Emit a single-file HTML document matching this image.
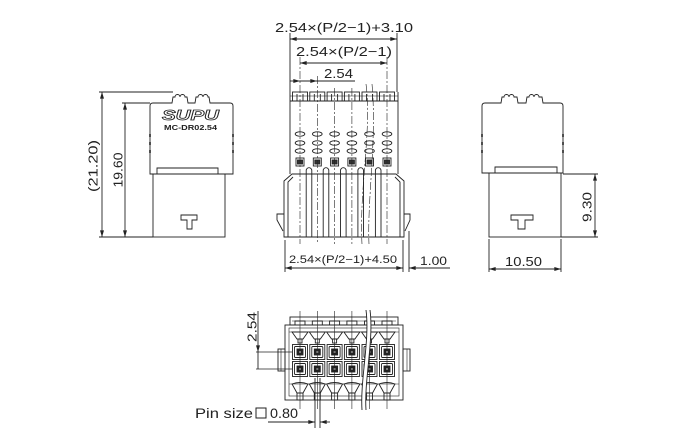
<!DOCTYPE html>
<html><head><meta charset="utf-8">
<style>
html,body{margin:0;padding:0;background:#fff;}
svg{display:block;}
text{font-family:"Liberation Sans",sans-serif;fill:#222;stroke:none;}
</style></head><body>
<svg width="680" height="440" viewBox="0 0 680 440" xmlns="http://www.w3.org/2000/svg">
<defs>
<marker id="ar" viewBox="0 0 10 6" refX="10" refY="3" markerWidth="7" markerHeight="4" orient="auto-start-reverse" markerUnits="userSpaceOnUse">
<path d="M0,0 L10,3 L0,6 z" fill="#222" stroke="none"/>
</marker>
<g id="ccol">
<rect x="-7.5" y="92" width="15" height="9"/>
<line x1="-3" y1="94" x2="-3" y2="101"/><line x1="3" y1="94" x2="3" y2="101"/>
<ellipse cx="0" cy="134" rx="4.8" ry="2.2"/>
<ellipse cx="0" cy="143" rx="4.8" ry="2.2"/>
<ellipse cx="0" cy="151" rx="4.8" ry="2.2"/>
<rect x="-4" y="158" width="8" height="8"/>
<rect x="-2.5" y="160" width="5" height="4" fill="#333"/>
</g>
<path id="sep" d="M-2.8,237 L-2.8,170.5 A2.8,2.8 0 0 1 2.8,170.5 L2.8,237"/>
<g id="cell">
<rect x="-7.5" y="-7.5" width="15" height="15"/>
<rect x="-5.5" y="-5.5" width="11" height="11" rx="1"/>
<rect x="-3" y="-3" width="6" height="6" fill="#222"/>
<rect x="-1" y="-1" width="2" height="2" fill="#777" stroke="none"/>
</g>
<g id="bcol">
<path d="M-5,325 L-5,321 L5,321 L5,325"/>
<path d="M-8,332 L8,332 L3,339 L-3,339 Z"/>
<rect x="-2" y="339" width="4" height="4"/>
<path d="M-8,384 Q0,381 8,384 L3,393 L-3,393 Z"/>
<rect x="-3" y="393" width="6" height="7"/>
<line x1="0" y1="311" x2="0" y2="409" stroke-width="0.6"/>
</g>
</defs>

<g stroke="#222" stroke-width="0.9" fill="none">

<!-- ================= LEFT VIEW ================= -->
<line x1="102" y1="92" x2="102" y2="237" marker-start="url(#ar)" marker-end="url(#ar)"/>
<line x1="99" y1="92" x2="173" y2="92"/>
<line x1="99" y1="237" x2="153" y2="237"/>
<line x1="125" y1="103" x2="125" y2="237" marker-start="url(#ar)" marker-end="url(#ar)"/>
<line x1="122" y1="103" x2="150" y2="103"/>
<path d="M150,174 L150,106 Q150,103 153,103 L172,103 L173,97 L175,97 A2.5,2.5 0 0 1 180,97 A2.5,2.5 0 0 1 185,97 L187,97 L188,103 L195,103 L196,97 L198,97 A2.5,2.5 0 0 1 203,97 A2.5,2.5 0 0 1 208,97 L209,97 L210,103 L230,103 Q233,103 233,106 L233,174 Z"/>
<path d="M157,174 L157,168 L218,168 L218,174"/>
<rect x="153" y="174" width="72" height="63"/>
<path d="M181,215 L197,215 L197,220 L192,220 L192,229 L187,229 L187,220 L181,220 Z"/>
<g stroke-width="1.6">
<line x1="150" y1="134" x2="150" y2="137"/><line x1="150" y1="142" x2="150" y2="145"/><line x1="150" y1="150" x2="150" y2="153"/>
<line x1="233" y1="134" x2="233" y2="137"/><line x1="233" y1="142" x2="233" y2="145"/><line x1="233" y1="150" x2="233" y2="153"/>
</g>
<text x="162" y="120" font-size="15" font-weight="bold" font-style="italic" textLength="57" lengthAdjust="spacingAndGlyphs" style="fill:#fff;stroke:#222;stroke-width:0.8">SUPU</text>
<text x="164" y="130" font-size="7.5" font-weight="bold" textLength="53" lengthAdjust="spacingAndGlyphs">MC-DR02.54</text>
<text transform="translate(93,166) rotate(-90)" text-anchor="middle" dominant-baseline="central" font-size="13" textLength="52" lengthAdjust="spacingAndGlyphs">(21.20)</text>
<text transform="translate(118,170) rotate(-90)" text-anchor="middle" dominant-baseline="central" font-size="13" textLength="35" lengthAdjust="spacingAndGlyphs">19.60</text>

<!-- ================= CENTER VIEW ================= -->
<text x="275" y="32" font-size="13" textLength="138" lengthAdjust="spacingAndGlyphs">2.54×(P/2−1)+3.10</text>
<line x1="290" y1="39" x2="397" y2="39" marker-start="url(#ar)" marker-end="url(#ar)"/>
<line x1="290" y1="33" x2="290" y2="92"/>
<line x1="397" y1="33" x2="397" y2="92"/>
<text x="296" y="56" font-size="13" textLength="96" lengthAdjust="spacingAndGlyphs">2.54×(P/2−1)</text>
<line x1="300" y1="63" x2="387" y2="63" marker-start="url(#ar)" marker-end="url(#ar)"/>
<text x="324" y="78" font-size="13" textLength="29" lengthAdjust="spacingAndGlyphs">2.54</text>
<line x1="300" y1="81" x2="317" y2="81" marker-end="url(#ar)"/>
<line x1="317" y1="81" x2="355" y2="81"/>
<line x1="290" y1="81" x2="300" y2="81" marker-end="url(#ar)"/>

<!-- header baseline + body -->
<line x1="290" y1="101" x2="398" y2="101"/>
<line x1="290" y1="96" x2="398" y2="96" stroke-width="0.6"/>
<line x1="290" y1="92" x2="290" y2="174"/>
<line x1="398" y1="92" x2="398" y2="174"/>
<use href="#ccol" x="300"/>
<use href="#ccol" x="317.3"/>
<use href="#ccol" x="334.6"/>
<use href="#ccol" x="351.9"/>
<use href="#ccol" x="369.5"/>
<use href="#ccol" x="387"/>
<use href="#sep" x="309"/>
<use href="#sep" x="326"/>
<use href="#sep" x="343.3"/>
<use href="#sep" x="360.7"/>
<use href="#sep" x="378.2"/>
<!-- lower housing -->
<path d="M292,174 L284,181 L284,237 L404,237 L404,181 L396,174 Z"/>
<path d="M293,177 L288,182 L288,237 M395,177 L400,182 L400,237"/>
<path d="M284,214 L277,214 L277,220 L283,231"/>
<path d="M404,214 L410,214 L410,220 L405,231"/>
<!-- center lines -->
<g stroke-width="0.6" stroke-dasharray="8,2,2,2">
<line x1="300" y1="57" x2="300" y2="244"/>
<line x1="317.3" y1="76" x2="317.3" y2="244"/>
<line x1="334.6" y1="88" x2="334.6" y2="244"/>
<line x1="351.9" y1="88" x2="351.9" y2="244"/>
<line x1="387" y1="57" x2="387" y2="244"/>
<path d="M366,84 C372,130 359,190 362,244"/>
<path d="M372,84 C377,140 367,200 369,244"/>
</g>
<!-- bottom dims -->
<line x1="285" y1="240" x2="285" y2="272"/>
<line x1="403" y1="240" x2="403" y2="272"/>
<line x1="409" y1="231" x2="409" y2="272"/>
<line x1="285" y1="268" x2="403" y2="268" marker-start="url(#ar)" marker-end="url(#ar)"/>
<text x="289" y="263" font-size="11" textLength="108" lengthAdjust="spacingAndGlyphs">2.54×(P/2−1)+4.50</text>
<line x1="450" y1="268" x2="409" y2="268" marker-end="url(#ar)"/>
<text x="420" y="265" font-size="12" textLength="27" lengthAdjust="spacingAndGlyphs">1.00</text>

<!-- ================= RIGHT VIEW ================= -->
<path d="M482,173 L482,106 Q482,103 485,103 L501,103 L502,97 L504,97 A2.5,2.5 0 0 1 509,97 A2.5,2.5 0 0 1 514,97 L517,97 L518,103 L526,103 L527,97 L529,97 A2.5,2.5 0 0 1 534,97 A2.5,2.5 0 0 1 539,97 L542,97 L543,103 L560,103 Q563,103 563,106 L563,173 Z"/>
<path d="M495,173 L495,167 L557,167 L557,173"/>
<rect x="489" y="173" width="72" height="64"/>
<path d="M511,215 L533,215 L533,220 L525,220 L525,229 L518,229 L518,220 L511,220 Z"/>
<g stroke-width="1.6">
<line x1="482" y1="134" x2="482" y2="137"/><line x1="482" y1="142" x2="482" y2="145"/><line x1="482" y1="150" x2="482" y2="153"/>
<line x1="563" y1="134" x2="563" y2="137"/><line x1="563" y1="142" x2="563" y2="145"/><line x1="563" y1="150" x2="563" y2="153"/>
</g>
<line x1="563" y1="174" x2="598" y2="174"/>
<line x1="561" y1="237" x2="598" y2="237"/>
<line x1="595" y1="174" x2="595" y2="237" marker-start="url(#ar)" marker-end="url(#ar)"/>
<text transform="translate(587,207) rotate(-90)" text-anchor="middle" dominant-baseline="central" font-size="13" textLength="30" lengthAdjust="spacingAndGlyphs">9.30</text>
<line x1="489" y1="239" x2="489" y2="272"/>
<line x1="561" y1="239" x2="561" y2="272"/>
<line x1="489" y1="269" x2="561" y2="269" marker-start="url(#ar)" marker-end="url(#ar)"/>
<text x="505" y="266" font-size="13" textLength="37" lengthAdjust="spacingAndGlyphs">10.50</text>

<!-- ================= BOTTOM VIEW ================= -->
<rect x="290" y="317" width="108" height="8"/>
<line x1="292" y1="321" x2="396" y2="321" stroke-width="0.6"/>
<rect x="285" y="325" width="118" height="75"/>
<rect x="289" y="328" width="110" height="68" stroke-width="0.6"/>
<line x1="289" y1="332" x2="399" y2="332" stroke-width="0.6"/>
<line x1="289" y1="384" x2="399" y2="384" stroke-width="0.6"/>
<rect x="278" y="349" width="7" height="22"/>
<line x1="281" y1="349" x2="281" y2="371" stroke-width="0.6"/>
<rect x="403" y="349" width="7" height="22"/>
<line x1="407" y1="349" x2="407" y2="371" stroke-width="0.6"/>
<use href="#bcol" x="300"/>
<use href="#bcol" x="317.3"/>
<use href="#bcol" x="334.6"/>
<use href="#bcol" x="351.9"/>
<use href="#bcol" x="369.5"/>
<use href="#bcol" x="387"/>
<use href="#cell" x="300" y="352"/><use href="#cell" x="317.3" y="352"/><use href="#cell" x="334.6" y="352"/><use href="#cell" x="351.9" y="352"/><use href="#cell" x="369.5" y="352"/><use href="#cell" x="387" y="352"/>
<use href="#cell" x="300" y="369"/><use href="#cell" x="317.3" y="369"/><use href="#cell" x="334.6" y="369"/><use href="#cell" x="351.9" y="369"/><use href="#cell" x="369.5" y="369"/><use href="#cell" x="387" y="369"/>
<!-- break -->
<path d="M366,310 C370,340 360,380 362,410 L366,410 C364,380 374,340 370,310 Z" fill="#fff" stroke="none"/>
<path d="M366,310 C370,340 360,380 362,410"/>
<path d="M370,310 C374,340 364,380 366,410"/>
<!-- 2.54 dim -->
<line x1="256" y1="352" x2="292" y2="352" stroke-width="0.7"/>
<line x1="256" y1="369" x2="292" y2="369" stroke-width="0.7"/>
<line x1="258" y1="311" x2="258" y2="352" marker-end="url(#ar)"/>
<line x1="258" y1="352" x2="258" y2="369"/>
<text transform="translate(252,327) rotate(-90)" text-anchor="middle" dominant-baseline="central" font-size="13" textLength="30" lengthAdjust="spacingAndGlyphs">2.54</text>
<!-- pin size -->
<line x1="315" y1="378" x2="315" y2="428"/>
<line x1="320" y1="378" x2="320" y2="428"/>
<line x1="268" y1="422" x2="315" y2="422" marker-end="url(#ar)"/>
<line x1="330" y1="422" x2="320" y2="422" marker-end="url(#ar)"/>
<text x="195" y="418" font-size="14" textLength="58" lengthAdjust="spacingAndGlyphs">Pin size</text>
<rect x="256" y="408" width="10" height="10" stroke-width="1"/>
<text x="270" y="418" font-size="14" textLength="28" lengthAdjust="spacingAndGlyphs">0.80</text>
</g>
</svg>
</body></html>
